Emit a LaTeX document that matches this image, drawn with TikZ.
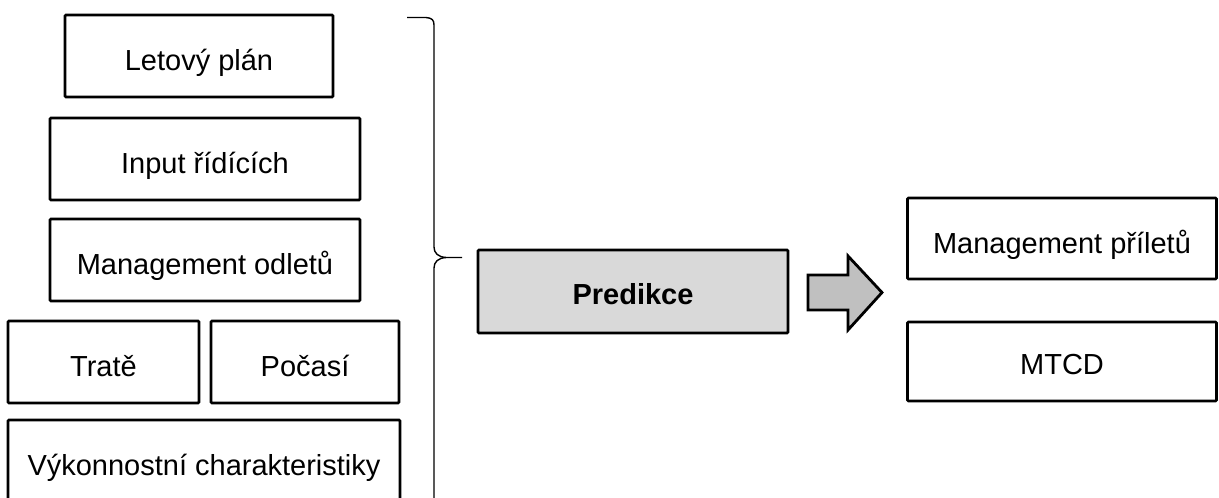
\documentclass[tikz,border=0pt]{standalone}
\usepackage{fontspec}
\setmainfont{Liberation Sans}
\definecolor{boxgray}{HTML}{D9D9D9}
\definecolor{arrowgray}{HTML}{C0C0C0}
\begin{document}
\begin{tikzpicture}[x=1pt,y=-1pt,
  box/.style={draw=black, line width=2.8pt, rounded corners=1pt, fill=white,
    inner sep=0pt, font=\fontsize{29}{34}\selectfont, text=black,
    text height=29pt, text depth=0pt},
  bigarrow/.style={draw=black, line width=2.8pt, fill=arrowgray, line join=miter},
  bracket/.style={draw=black, line width=1.4pt}]
  \path[use as bounding box, clip] (0,0) rectangle (1219,498);

  % input blocks
  \node[box, minimum width=268pt, minimum height=82pt] (plan)   at (199,56)    {Letový plán};
  \node[box, minimum width=310pt, minimum height=82pt] (input)  at (205,159)   {Input řídících};
  \node[box, minimum width=310pt, minimum height=82pt] (odlety) at (205,260)   {Management odletů};
  \node[box, minimum width=191pt, minimum height=82pt] (trate)  at (103.5,362) {Tratě};
  \node[box, minimum width=188pt, minimum height=82pt] (pocasi) at (305,362)   {Počasí};
  \node[box, minimum width=392pt, minimum height=82pt] (vykon)  at (204,461)   {Výkonnostní charakteristiky};

  % grouping brace
  \draw[bracket] (407,17.5) -- (426,17.5) .. controls (432,18) and (434,20) .. (434,25)
    -- (434,247) .. controls (434,253) and (438,257) .. (446,257.5) -- (462,257.5);
  \draw[bracket] (446,257.5) .. controls (438,258) and (434,262) .. (434,268) -- (434,510);

  % prediction
  \node[box, fill=boxgray, minimum width=310pt, minimum height=83pt, text height=25pt,
        font=\fontsize{29}{34}\selectfont\bfseries] (pred) at (633,291.5) {Predikce};

  % block arrow
  \draw[bigarrow] (808,275) -- (848,275) -- (848,256) -- (882,292.5)
    -- (848,330) -- (848,310) -- (808,310) -- cycle;

  % outputs
  \node[box, minimum width=309pt, minimum height=81pt] (prilety) at (1062,238.5) {Management příletů};
  \node[box, minimum width=309pt, minimum height=79pt, text height=26pt] (mtcd) at (1062,361.5) {MTCD};
\end{tikzpicture}
\end{document}
